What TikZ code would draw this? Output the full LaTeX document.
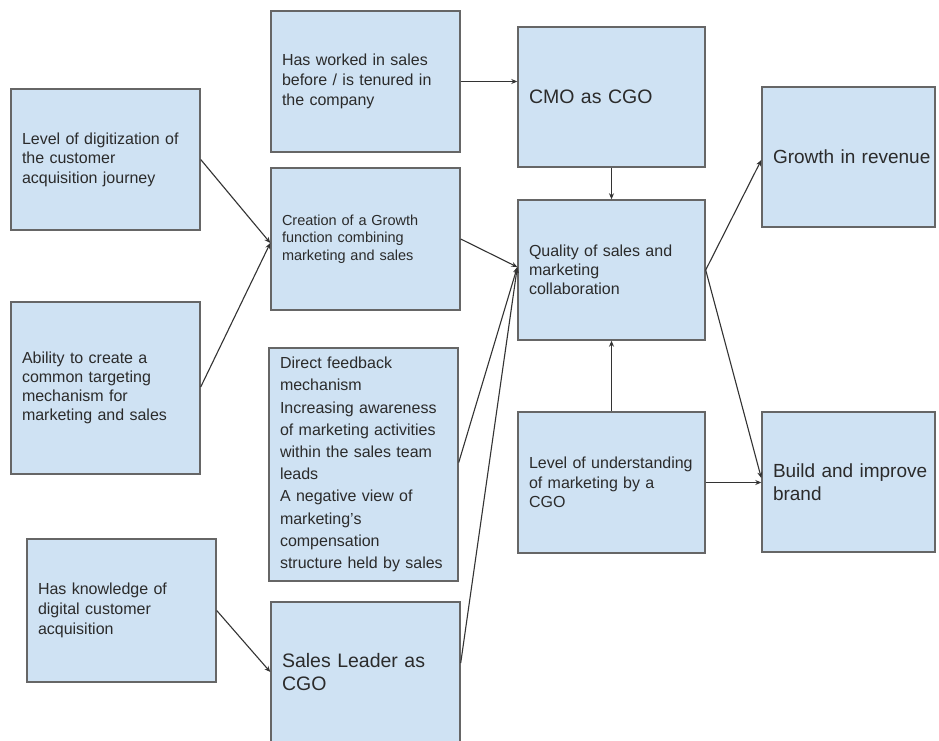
\documentclass[tikz,border=0pt]{standalone}
\usepackage{fontspec}
\setmainfont{Liberation Sans}
\usetikzlibrary{arrows.meta,calc}
\definecolor{boxfill}{HTML}{CFE2F3}
\definecolor{boxline}{HTML}{666666}
\definecolor{inkgray}{HTML}{2B2B2B}
\definecolor{wiregray}{HTML}{333333}

\begin{document}
\begin{tikzpicture}[x=1pt,y=-1pt,
  card/.style={draw=boxline,line width=1.4pt,fill=boxfill,rectangle,
    inner xsep=11pt,inner ysep=0pt,align=left,text=inkgray,
    font=\fontsize{16}{19.5}\selectfont},
  link/.style={draw=wiregray,line width=1.1pt,
    -{Stealth[length=6pt,width=5pt]}}]
  \clip (0,0) rectangle (939,741);
  \fill[white] (0,0) rectangle (939,741);

  % box macro: corners (x1,y1) and (x2,y2) in pixels
  \newcommand{\cardbox}[6][]{%
    \node[card,#1,minimum width={#4-#2},minimum height={#5-#3},
      text width={#4-#2-22},anchor=center]
      at ({(#2+#4)/2},{(#3+#5)/2}) {#6};}

  % left column
  \cardbox[name=dig]{11}{89}{200}{230}{Level of digitization of\\the customer\\acquisition journey}
  \cardbox[name=abil,font=\fontsize{16}{19}\selectfont]{11}{302}{200}{474}{Ability to create a\\common targeting\\mechanism for\\marketing and sales}
  \cardbox[name=know,font=\fontsize{16}{20}\selectfont]{27}{539}{216}{682}{Has knowledge of\\digital customer\\acquisition}

  % middle column
  \cardbox[name=work,font=\fontsize{16}{20}\selectfont]{271}{11}{460}{152}{Has worked in sales\\before / is tenured in\\the company}
  \cardbox[name=creat,font=\fontsize{14.5}{17.3}\selectfont]{271}{168}{460}{310}{Creation of a Growth\\function combining\\marketing and sales}
  \cardbox[name=direct,font=\fontsize{16}{22.2}\selectfont]{269}{348}{458}{581}{Direct feedback\\mechanism\\Increasing awareness\\of marketing activities\\within the sales team\\leads\\A negative view of\\marketing's\\compensation\\structure held by sales}
  \cardbox[name=sales,font=\fontsize{19.5}{22.5}\selectfont]{271}{602}{460}{742}{Sales Leader as\\CGO}

  % centre column
  \cardbox[name=cmo,font=\fontsize{19.5}{22.5}\selectfont]{518}{27}{705}{167}{CMO as CGO}
  \cardbox[name=qual,font=\fontsize{16}{19}\selectfont]{518}{200}{705}{340}{Quality of sales and\\marketing\\collaboration}
  \cardbox[name=under]{518}{412}{705}{553}{Level of understanding\\of marketing by a\\CGO}

  % right column
  \cardbox[name=growth,font=\fontsize{19}{22.5}\selectfont]{762}{87}{935}{227}{\mbox{Growth in revenue}}
  \cardbox[name=brand,font=\fontsize{19}{22.7}\selectfont]{762}{412}{935}{552}{\mbox{Build and improve}\\brand}

  % connector end points
  \coordinate (workout) at (work.east);
  \coordinate (cmoin) at (workout -| cmo.west);
  \coordinate (creatin) at ($(creat.west)+(0,4)$);
  \coordinate (qualin) at ($(qual.west)+(0,-3)$);

  % connectors
  \draw[link] (dig.east) -- (creatin);
  \draw[link] ($(abil.east)+(0,-1)$) -- (creatin);
  \draw[link] (know.east) -- (sales.west);
  \draw[link] (workout) -- (cmoin);
  \draw[link] (cmo.south) -- (qual.north);
  \draw[link] (creat.east) -- (qualin);
  \draw[link] ($(direct.east)+(0,-2)$) -- (qualin);
  \draw[link] ($(sales.east)+(0,-9)$) -- (qualin);
  \draw[link] (under.north) -- (qual.south);
  \draw[link] (under.east) -- (under.east -| brand.west);
  \draw[link] (qual.east) -- ($(growth.west)+(0,3)$);
  \draw[link] (qual.east) -- ($(brand.west)+(0,-4)$);
\end{tikzpicture}
\end{document}
